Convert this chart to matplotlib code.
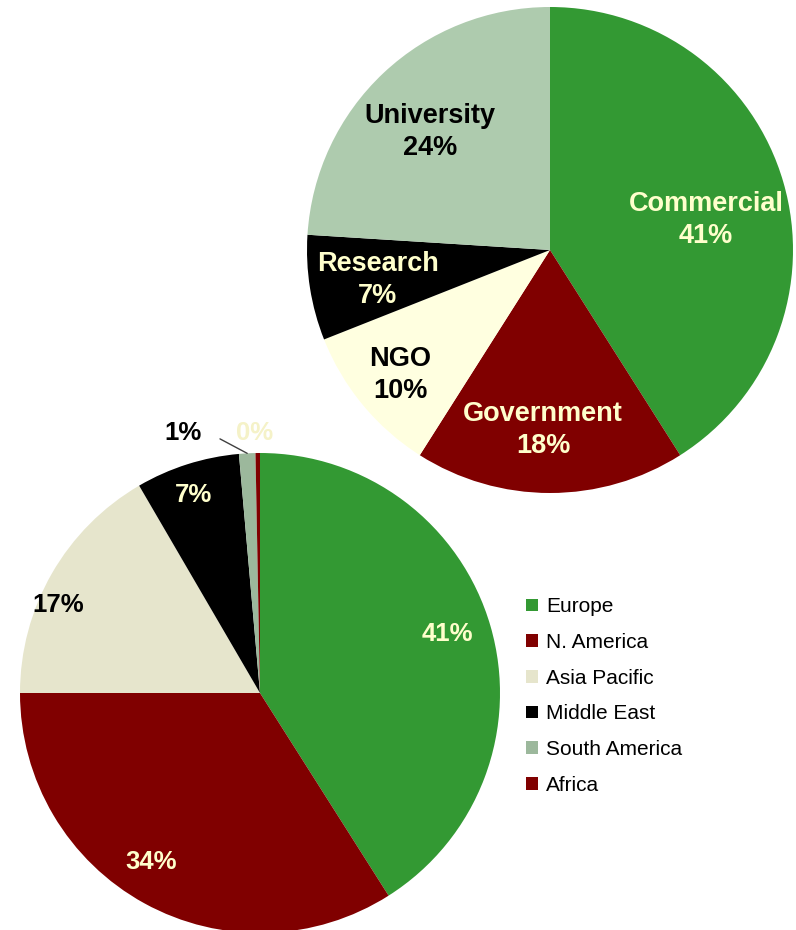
import matplotlib.pyplot as plt
import numpy as np

plt.rcParams['font.family'] = ['Liberation Sans', 'DejaVu Sans']

# top pie: organisation type
org_labels = ['Commercial', 'Government', 'NGO', 'Research', 'University']
org_values = [41, 18, 10, 7, 24]
org_colors = ['#339933', '#800000', '#FFFFE0', '#000000', '#AECBAE']
org_text_colors = ['#FFFFCC', '#FFFFCC', '#000000', '#FFFFCC', '#000000']

# bottom pie: region
region_labels = ['Europe', 'N. America', 'Asia Pacific', 'Middle East', 'South America', 'Africa']
region_values = [41, 34, 16.6, 7, 1.1, 0.3]
region_colors = ['#339933', '#800000', '#E6E5CC', '#000000', '#9CB89C', '#800000']
region_text_colors = ['#FFFFCC', '#FFFFCC', '#000000', '#FFFFCC', '#000000', '#F5F2C8']

W, H = 796, 930
fig = plt.figure(figsize=(W / 100, H / 100), dpi=100)


def pie_axes(cx, cy, r):
    return fig.add_axes([(cx - r) / W, 1 - (cy + r) / H, 2 * r / W, 2 * r / H])


def fix_limits(ax):
    ax.set_xlim(-1, 1)
    ax.set_ylim(-1, 1)
    ax.set_aspect('equal')
    ax.axis('off')


# ---- top pie
ax1 = pie_axes(550, 250, 243)
wedges1, _ = ax1.pie(org_values, colors=org_colors, startangle=90, counterclock=False)
fix_limits(ax1)
pos1 = [(0.642, 0.123), (-0.029, -0.741), (-0.617, -0.514), (-0.708, -0.123), (-0.494, 0.486)]
for (x, y), lab, v, c in zip(pos1, org_labels, org_values, org_text_colors):
    ax1.text(x, y, f'{lab}\n{v}%', ha='center', va='center',
             color=c, fontsize=19.5, fontweight='bold', linespacing=1.28)

# ---- bottom pie
ax2 = pie_axes(260, 693, 240)
wedges2, _ = ax2.pie(region_values, colors=region_colors, startangle=90, counterclock=False)
fix_limits(ax2)
total = sum(region_values)
pos2 = [(0.779, 0.246), (-0.454, -0.704), (-0.842, 0.367), (-0.279, 0.825),
        (-0.321, 1.083), (-0.021, 1.083)]
for i, ((x, y), v, c) in enumerate(zip(pos2, region_values, region_text_colors)):
    txt = f'{100 * v / total:.0f}%'
    if i == 4:
        # South America labelled outside with a leader line
        w = wedges2[4]
        a = np.deg2rad((w.theta1 + w.theta2) / 2)
        ax2.annotate(txt, xy=(np.cos(a), np.sin(a)), xytext=(x, y), ha='center',
                     va='center', fontsize=18.5, fontweight='bold', color=c,
                     annotation_clip=False,
                     arrowprops=dict(arrowstyle='-', color='#404040', lw=1,
                                     connectionstyle='angle,angleA=0,angleB=-28,rad=0',
                                     shrinkA=12, shrinkB=0))
    else:
        ax2.text(x, y, txt, ha='center', va='center', color=c,
                 fontsize=18.5, fontweight='bold')

fig.legend(wedges2, region_labels, loc='upper left', bbox_to_anchor=(518 / W, 1 - 589 / H),
           frameon=False, fontsize=15, handlelength=0.55, handleheight=0.55,
           handletextpad=0.4, labelspacing=0.8, borderaxespad=0)

fig.savefig('out.png', dpi=100)
